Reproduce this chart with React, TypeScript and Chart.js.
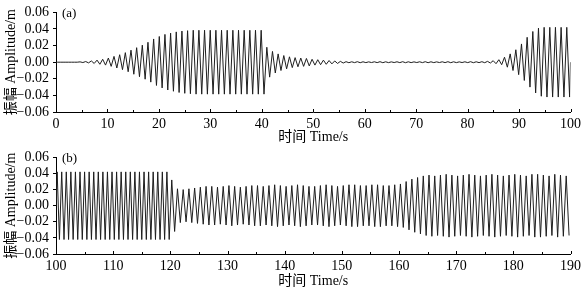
import React, { useEffect, useRef } from 'react';
import { Chart, registerables } from 'chart.js';

Chart.register(...registerables);

// ---------- Data ----------
// Panel (a): one oscillation cycle per entry, 1.1 s period starting at 0 s
const periodA = 1.1;
const startA = 0;
const ampA = [
  0, 0, 0, 0,
  0.0004, 0.0008, 0.0015, 0.0025, 0.0035, 0.005, 0.007, 0.009, 0.0115, 0.0145,
  0.0175, 0.0205, 0.024, 0.028, 0.031, 0.0335, 0.035, 0.0365, 0.0375, 0.038,
  0.0385, 0.0385, 0.0385, 0.0385, 0.0385, 0.0385, 0.0385, 0.0385, 0.0385, 0.0385,
  0.0385, 0.0385, 0.0385,
  0.018, 0.013, 0.01, 0.008, 0.0065, 0.0055, 0.005, 0.0045, 0.0035, 0.003,
  0.0025, 0.002, 0.0015, 0.001,
  0.0006, 0.0005, 0.0006, 0.0005, 0.0004, 0.0005, 0.0006, 0.0005, 0.0004, 0.0005,
  0.0006, 0.0005, 0.0004, 0.0005, 0.0006, 0.0005, 0.0004, 0.0005, 0.0006, 0.0005,
  0.0004, 0.0005, 0.0006, 0.0005, 0.0006,
  0.001, 0.0018, 0.003, 0.006, 0.01, 0.015, 0.022, 0.03, 0.037, 0.041,
  0.042, 0.042, 0.042, 0.042, 0.042,
];

// Panel (b), part 1: 100–120 s, 0.8 s period
const periodB1 = 0.8;
const startB1 = 100;
const ampB1 = [
  0.042, 0.042, 0.042, 0.042, 0.042, 0.042, 0.042, 0.042, 0.042, 0.042,
  0.042, 0.042, 0.042, 0.042, 0.042, 0.042, 0.042, 0.042, 0.042, 0.042,
  0.042, 0.042, 0.042, 0.042, 0.042,
];

// Panel (b), part 2: 120–190 s, 1.0 s period
const periodB2 = 1.0;
const startB2 = 120;
const ampB2 = [
  0.032, 0.021, 0.02, 0.021, 0.022, 0.023, 0.024, 0.024, 0.023, 0.024,
  0.025, 0.024, 0.023, 0.024, 0.025, 0.025, 0.024, 0.025, 0.026, 0.025,
  0.024, 0.025, 0.026, 0.025, 0.024, 0.024, 0.025, 0.026, 0.025, 0.024,
  0.025, 0.026, 0.026, 0.025, 0.025, 0.026, 0.026, 0.025, 0.025, 0.026,
  0.027, 0.03, 0.033, 0.035, 0.037, 0.038, 0.037, 0.038, 0.039, 0.038,
  0.037, 0.038, 0.039, 0.038, 0.037, 0.038, 0.039, 0.038, 0.037, 0.038,
  0.039, 0.038, 0.037, 0.039, 0.039, 0.038, 0.037, 0.039, 0.038, 0.037,
];

const xTicksA = { min: 0, max: 100, step: 10 };
const xTicksB = { min: 100, max: 190, step: 10 };
const yTicks = { min: -0.06, max: 0.06, step: 0.02 };

const yTitle = '振幅 Amplitude/m';
const xTitle = '时间 Time/s';

// ---------- helpers ----------
type Pt = { x: number; y: number };
function cycles(start: number, period: number, amps: number[]): Pt[] {
  const out: Pt[] = [];
  amps.forEach((a, k) => {
    const t = start + k * period;
    out.push({ x: t + period * 0.25, y: a });
    out.push({ x: t + period * 0.75, y: -a });
  });
  return out;
}

const seriesA: Pt[] = [{ x: startA, y: 0 }, ...cycles(startA, periodA, ampA), { x: 100, y: 0 }];
const seriesB: Pt[] = [
  { x: startB1, y: 0 },
  ...cycles(startB1, periodB1, ampB1),
  ...cycles(startB2, periodB2, ampB2),
];

const SERIF = "'Liberation Serif', 'Times New Roman', serif";
const TITLE_FONT = "'Liberation Serif', 'Noto Sans CJK SC', serif";

const panelPlugin = {
  id: 'panelExtras',
  afterDraw(chart: any, _args: any, opts: any) {
    const { ctx, chartArea } = chart;
    const xs = chart.scales.x;
    ctx.save();
    ctx.strokeStyle = '#000';
    ctx.lineWidth = 1;
    for (let v = xs.min; v <= xs.max + 1e-9; v += opts.minor) {
      const px = Math.round(xs.getPixelForValue(v)) + 0.5;
      const r = (v - xs.min) / opts.major;
      const major = Math.abs(r - Math.round(r)) < 1e-6;
      const len = major ? 3 : 2;
      ctx.beginPath();
      ctx.moveTo(px, chartArea.bottom);
      ctx.lineTo(px, chartArea.bottom - len);
      ctx.stroke();
    }
    ctx.fillStyle = '#000';
    ctx.font = `13px ${SERIF}`;
    ctx.textBaseline = 'middle';
    ctx.textAlign = 'left';
    ctx.fillText(opts.label, chartArea.left + 6, chartArea.top + 1);
    ctx.restore();
  },
};

type PanelProps = {
  data: Pt[];
  xr: { min: number; max: number; step: number };
  label: string;
  height: number;
  padBottom: number;
  xScaleHeight: number;
};

function Panel({ data, xr, label, height, padBottom, xScaleHeight }: PanelProps) {
  const ref = useRef<HTMLCanvasElement | null>(null);
  useEffect(() => {
    if (!ref.current) return;
    const chart = new Chart(ref.current, {
      type: 'line',
      data: {
        datasets: [
          {
            data,
            borderColor: '#1e1e1e',
            borderWidth: 1,
            pointRadius: 0,
            tension: 0,
            fill: false,
          },
        ],
      },
      options: {
        responsive: false,
        animation: false,
        devicePixelRatio: 1,
        layout: { padding: { top: 7, right: 12, bottom: padBottom, left: 0 } },
        plugins: {
          legend: { display: false },
          tooltip: { enabled: false },
          panelExtras: { label, major: 10, minor: 5 },
        } as any,
        scales: {
          x: {
            type: 'linear',
            min: xr.min,
            max: xr.max,
            ticks: {
              stepSize: xr.step,
              autoSkip: false,
              color: '#000',
              font: { family: SERIF, size: 14 },
              padding: 4,
              maxRotation: 0,
            },
            grid: { display: true, drawOnChartArea: false, drawTicks: false },
            border: { display: true, color: '#000', width: 1 },
            title: {
              display: true,
              text: xTitle,
              color: '#000',
              font: { family: TITLE_FONT, size: 14, lineHeight: 1.1 },
              padding: { top: 0, bottom: 0 },
            },
            afterFit: (s: any) => {
              s.height = xScaleHeight;
            },
          } as any,
          y: {
            type: 'linear',
            min: yTicks.min,
            max: yTicks.max,
            ticks: {
              stepSize: yTicks.step,
              autoSkip: false,
              color: '#000',
              font: { family: SERIF, size: 14 },
              padding: 4,
              callback: (v: any) => {
                const n = Number(v);
                if (Math.abs(n) < 1e-9) return '0.00';
                return (n < 0 ? '\u2212' : '') + Math.abs(n).toFixed(2);
              },
            },
            grid: { display: true, drawOnChartArea: false, drawTicks: true, tickLength: 3, color: '#000' },
            border: { display: true, color: '#000', width: 1 },
            title: {
              display: true,
              text: yTitle,
              color: '#000',
              font: { family: TITLE_FONT, size: 14, lineHeight: 1.1 },
              padding: { top: 4, bottom: 0 },
            },
            afterFit: (s: any) => {
              s.width = 56;
            },
          } as any,
        },
      },
      plugins: [panelPlugin],
    });
    return () => chart.destroy();
  }, []);
  return <canvas ref={ref} width={585} height={height} style={{ display: 'block', width: 585, height }} />;
}

export default function App() {
  useEffect(() => {
    document.body.style.margin = '0';
    document.body.style.background = '#fff';
  }, []);
  return (
    <div style={{ position: 'absolute', left: 0, top: 0, width: 585, height: 295, background: '#fff' }}>
      <Panel data={seriesA} xr={xTicksA} label="(a)" height={145} padBottom={0} xScaleHeight={33} />
      <Panel data={seriesB} xr={xTicksB} label="(b)" height={150} padBottom={6} xScaleHeight={35} />
    </div>
  );
}
